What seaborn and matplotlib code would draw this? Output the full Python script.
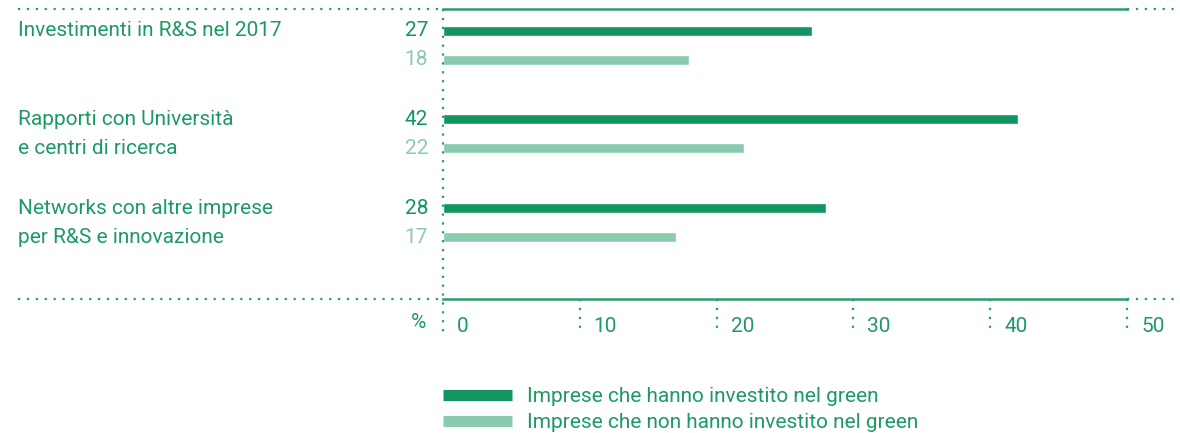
import pandas as pd
import matplotlib.pyplot as plt
import seaborn as sns
from matplotlib.lines import Line2D
from matplotlib.transforms import ScaledTranslation

# Data (% of firms)
categories = ['Investimenti in R&S nel 2017',
              'Rapporti con Università\ne centri di ricerca',
              'Networks con altre imprese\nper R&S e innovazione']
series = ['Imprese che hanno investito nel green',
          'Imprese che non hanno investito nel green']
green_values = [27, 42, 28]
non_green_values = [18, 22, 17]
x_ticks = [0, 10, 20, 30, 40, 50]

dark = '#10965e'
light = '#8acbb0'
text_green = '#1d9a63'
line_green = '#2a9e6a'
fs = 15

df = pd.DataFrame({
    'categoria': categories * 2,
    'serie': [series[0]] * 3 + [series[1]] * 3,
    'valore': green_values + non_green_values,
})

sns.set_style('white')
plt.rcParams['font.family'] = ['Roboto', 'DejaVu Sans']
plt.rcParams['font.size'] = fs

fig = plt.figure(figsize=(11.8, 4.33), dpi=100)
ax = fig.add_axes([443 / 1180, 1 - 299 / 433, 684 / 1180, 290 / 433])

sns.barplot(data=df, x='valore', y='categoria', hue='serie', orient='h',
            palette=[dark, light], saturation=1, width=0.655, gap=0.655,
            ax=ax, legend=False)

ax.set_xlim(0, 50)
ax.set_ylim(2.864, -0.412)
ax.set_xlabel('')
ax.set_ylabel('')
ax.set_yticks([])

# spines: solid top and bottom, nothing on the sides
for side in ['left', 'right']:
    ax.spines[side].set_visible(False)
for side in ['top', 'bottom']:
    ax.spines[side].set_color(line_green)
    ax.spines[side].set_linewidth(1.8)

dots = (0, (1, 3))
# dotted extensions of the frame lines
for yy in [0, 1]:
    ax.plot([-425 / 684, 0], [yy, yy], transform=ax.transAxes, clip_on=False,
            color=line_green, lw=1.6, ls=dots)
    ax.plot([1, 1 + 53 / 684], [yy, yy], transform=ax.transAxes, clip_on=False,
            color=line_green, lw=1.6, ls=dots)
# dotted vertical at zero
ax.plot([0, 0], [1, -36 / 290], transform=ax.get_xaxis_transform(), clip_on=False,
        color=line_green, lw=1.6, ls=dots)

# dotted tick marks below the axis
for t in x_ticks[1:]:
    ax.plot([t, t], [0, -32 / 290], transform=ax.get_xaxis_transform(), clip_on=False,
            color=line_green, lw=1.6, ls=dots)

ax.set_xticks(x_ticks)
ax.set_xticklabels([str(t) for t in x_ticks])
ax.tick_params(axis='x', length=0, pad=13, labelcolor=text_green, labelsize=fs)
for lab in ax.get_xticklabels():
    lab.set_horizontalalignment('left')
    lab.set_transform(lab.get_transform() + ScaledTranslation(14 / 100, 0, fig.dpi_scale_trans))
ax.text(-25 / 684, -24 / 290, '%', transform=ax.transAxes, ha='center', va='center',
        color=text_green, fontsize=fs)

# value labels and category labels aligned to the bars
bars = ax.patches
n = len(categories)
for i in range(n):
    b_dark = bars[i]
    b_light = bars[i + n]
    y_dark = b_dark.get_y() + b_dark.get_height() / 2
    y_light = b_light.get_y() + b_light.get_height() / 2
    for b, y, col in [(b_dark, y_dark, dark), (b_light, y_light, light)]:
        ax.text(-15 / 684, y, f'{b.get_width():.0f}', transform=ax.get_yaxis_transform(),
                ha='right', va='center', color=col, fontsize=fs)
    lines = categories[i].split('\n')
    for line, y in zip(lines, [y_dark, y_light]):
        ax.text(-425 / 684, y, line, transform=ax.get_yaxis_transform(),
                ha='left', va='center', color=text_green, fontsize=fs)

# legend
handles = [Line2D([0], [0], color=dark, lw=8, solid_capstyle='butt'),
           Line2D([0], [0], color=light, lw=8, solid_capstyle='butt')]
fig.legend(handles, series, loc='upper left', bbox_to_anchor=(443 / 1180, 1 - 387 / 433),
           frameon=False, handlelength=3.33, handletextpad=0.72, labelspacing=0.33,
           borderaxespad=0, borderpad=0, labelcolor=text_green, fontsize=fs)

fig.savefig('out.png', dpi=100)
